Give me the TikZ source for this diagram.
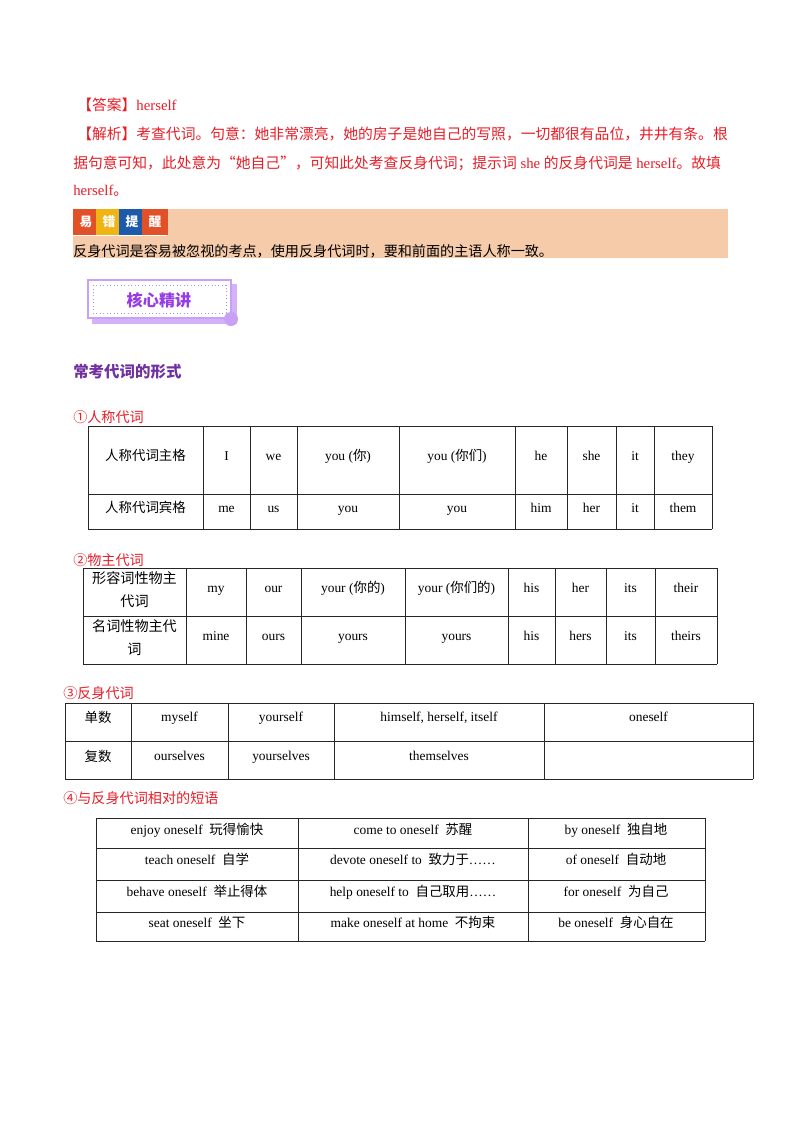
\documentclass[tikz,border=0pt]{standalone}
\usepackage{fontspec}
\setmainfont{Liberation Serif}
\newfontfamily\cjk{Noto Sans CJK SC}
\newcommand{\zh}[1]{{\cjk #1}}
\definecolor{ansred}{RGB}{230,30,40}
\definecolor{peach}{RGB}{246,203,170}
\definecolor{hpurple}{RGB}{112,48,160}
\definecolor{bpurple}{RGB}{150,60,230}
\definecolor{lpurple}{RGB}{200,160,245}
\tikzset{
  cell/.style={font=\fontsize{10}{11}\selectfont, inner sep=0pt, align=center, text height=7.5pt, text depth=2pt},
  grid/.style={draw=black!85, line width=0.7pt},
  redtxt/.style={text=ansred, anchor=west, inner sep=0pt, font=\fontsize{11}{12}\selectfont},
  lbl/.style={text=ansred, anchor=west, inner sep=0pt, font=\fontsize{10.5}{12}\selectfont},
  sq/.style={minimum width=19, minimum height=19, inner sep=0pt, text=white, font=\cjk\bfseries\fontsize{9.5}{10}\selectfont},
}
\begin{document}
\begin{tikzpicture}[x=0.744pt,y=-0.744pt]
\useasboundingbox (0,0) rectangle (800,1132);
% answer
\node[redtxt] (ans) at (77,105) {\zh{【答案】}herself};
\node[redtxt] (j1) at (77,134) {\zh{【解析】考查代词。句意：她非常漂亮，她的房子是她自己的写照，一切都很有品位，井井有条。根}};
\node[redtxt] (j2) at (73,163) {\zh{据句意可知，此处意为“她自己”，可知此处考查反身代词；提示词} she \zh{的反身代词是} herself\zh{。故填}};
\node[redtxt] (j3) at (73,191) {herself\zh{。}};
% warning box
\fill[peach] (73,209) rectangle (728,258);
\fill[white] (73,209) rectangle (167,236);
\node[sq, fill={rgb,255:red,226;green,80;blue,40}] (s1) at (86,222) {易};
\node[sq, fill={rgb,255:red,240;green,180;blue,20}] (s2) at (109,222) {错};
\node[sq, fill={rgb,255:red,30;green,90;blue,170}] (s3) at (132,222) {提};
\node[sq, fill={rgb,255:red,226;green,80;blue,40}] (s4) at (155,222) {醒};
\node[anchor=west, inner sep=0pt, font=\cjk\fontsize{10.5}{12}\selectfont] (warn) at (73,251) {反身代词是容易被忽视的考点，使用反身代词时，要和前面的主语人称一致。};
% badge
\fill[lpurple!80] (92,284) rectangle (237,324);
\fill[white] (88,280) rectangle (231,318);
\draw[lpurple, line width=0.8pt] (88,280) rectangle (231,318);
\draw[lpurple!90!black, dotted, line width=0.6pt] (93,285) rectangle (226,313);
\fill[lpurple] (231,319) circle (7);
\node[font=\cjk\bfseries\fontsize{12}{14}\selectfont, text=bpurple] (badge) at (159,300) {核心精讲};
% heading
\node[anchor=west, inner sep=0pt, text=hpurple, font=\cjk\bfseries\fontsize{11.5}{13}\selectfont] (head) at (73,372) {常考代词的形式};
% table 1
\node[lbl] (l1) at (73,417) {\zh{①人称代词}};
\foreach \x in {88,203,250,297,399,515,567,616,654,712} \draw[grid] (\x,426) -- (\x,529);
\foreach \y in {426,494,529} \draw[grid] (88,\y) -- (712,\y);
\node[cell] (a0) at (145.5,457) {\zh{人称代词主格}};
\node[cell] (a1) at (226.5,457) {I};
\node[cell] (a2) at (273.5,457) {we};
\node[cell] (a3) at (348,457) {you (\zh{你})};
\node[cell] (a4) at (457,457) {you (\zh{你们})};
\node[cell] (a5) at (541,457) {he};
\node[cell] (a6) at (591.5,457) {she};
\node[cell] (a7) at (635,457) {it};
\node[cell] (a8) at (683,457) {they};
\node[cell] (b0) at (145.5,509) {\zh{人称代词宾格}};
\node[cell] (b1) at (226.5,509) {me};
\node[cell] (b2) at (273.5,509) {us};
\node[cell] (b3) at (348,509) {you};
\node[cell] (b4) at (457,509) {you};
\node[cell] (b5) at (541,509) {him};
\node[cell] (b6) at (591.5,509) {her};
\node[cell] (b7) at (635,509) {it};
\node[cell] (b8) at (683,509) {them};
% table 2
\node[lbl] (l2) at (73,560) {\zh{②物主代词}};
\foreach \x in {83,186,246,301,405,508,555,606,655,717} \draw[grid] (\x,568) -- (\x,664);
\foreach \y in {568,616,664} \draw[grid] (83,\y) -- (717,\y);
\node[inner sep=0pt, align=center, font=\cjk\fontsize{10.5}{17}\selectfont] (c0) at (134.5,590) {形容词性物主\\代词};
\node[cell] (c1) at (216,589) {my};
\node[cell] (c2) at (273.5,589) {our};
\node[cell] (c3) at (353,589) {your (\zh{你的})};
\node[cell] (c4) at (456.5,589) {your (\zh{你们的})};
\node[cell] (c5) at (531.5,589) {his};
\node[cell] (c6) at (580.5,589) {her};
\node[cell] (c7) at (630.5,589) {its};
\node[cell] (c8) at (686,589) {their};
\node[inner sep=0pt, align=center, font=\cjk\fontsize{10.5}{17}\selectfont] (d0) at (134.5,638) {名词性物主代\\词};
\node[cell] (d1) at (216,637) {mine};
\node[cell] (d2) at (273.5,637) {ours};
\node[cell] (d3) at (353,637) {yours};
\node[cell] (d4) at (456.5,637) {yours};
\node[cell] (d5) at (531.5,637) {his};
\node[cell] (d6) at (580.5,637) {hers};
\node[cell] (d7) at (630.5,637) {its};
\node[cell] (d8) at (686,637) {theirs};
% table 3
\node[lbl] (l3) at (63,693) {\zh{③反身代词}};
\foreach \x in {65,131,228,334,544,753} \draw[grid] (\x,703) -- (\x,779);
\foreach \y in {703,741,779} \draw[grid] (65,\y) -- (753,\y);
\node[cell] (e0) at (98,719) {\zh{单数}};
\node[cell] (e1) at (179.5,718) {myself};
\node[cell] (e2) at (281,718) {yourself};
\node[cell] (e3) at (439,718) {himself, herself, itself};
\node[cell] (e4) at (648.5,718) {oneself};
\node[cell] (f0) at (98,758) {\zh{复数}};
\node[cell] (f1) at (179.5,757) {ourselves};
\node[cell] (f2) at (281,757) {yourselves};
\node[cell] (f3) at (439,757) {themselves};
% table 4
\node[lbl] (l4) at (63,798) {\zh{④与反身代词相对的短语}};
\foreach \x in {96,298,528,705} \draw[grid] (\x,818) -- (\x,941);
\foreach \y in {818,848,880,912,941} \draw[grid] (96,\y) -- (705,\y);
\node[cell] (g1) at (197,831) {enjoy oneself\enspace\zh{玩得愉快}};
\node[cell] (g2) at (413,831) {come to oneself\enspace\zh{苏醒}};
\node[cell] (g3) at (616,831) {by oneself\enspace\zh{独自地}};
\node[cell] (h1) at (197,861) {teach oneself\enspace\zh{自学}};
\node[cell] (h2) at (413,861) {devote oneself to\enspace\zh{致力于}……};
\node[cell] (h3) at (616,861) {of oneself\enspace\zh{自动地}};
\node[cell] (i1) at (197,893) {behave oneself\enspace\zh{举止得体}};
\node[cell] (i2) at (413,893) {help oneself to\enspace\zh{自己取用}……};
\node[cell] (i3) at (616,893) {for oneself\enspace\zh{为自己}};
\node[cell] (k1) at (197,924) {seat oneself\enspace\zh{坐下}};
\node[cell] (k2) at (413,924) {make oneself at home\enspace\zh{不拘束}};
\node[cell] (k3) at (616,924) {be oneself\enspace\zh{身心自在}};
\end{tikzpicture}
\end{document}
